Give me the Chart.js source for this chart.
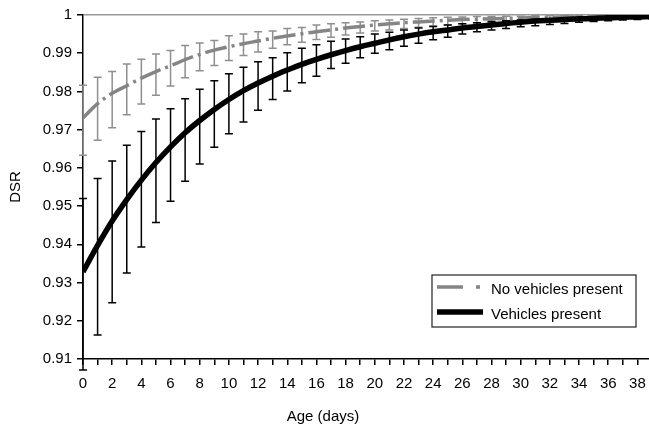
<!DOCTYPE html>
<html>
<head>
<meta charset="utf-8">
<script src="https://cdn.jsdelivr.net/npm/chart.js"></script>
<style>
  html, body { margin: 0; padding: 0; background: #fff; overflow: hidden; }
  #wrap { width: 652px; height: 427px; }
</style>
</head>
<body>
<div id="wrap"><canvas id="dsr-canvas" width="652" height="427"></canvas></div>
<script>
// nest age in days
var days = [0, 1, 2, 3, 4, 5, 6, 7, 8, 9, 10, 11, 12, 13, 14, 15, 16, 17, 18, 19,
    20, 21, 22, 23, 24, 25, 26, 27, 28, 29, 30, 31, 32, 33, 34, 35, 36, 37, 38, 39];

// No vehicles present
var noVehMean = [0.9731, 0.9768, 0.9795, 0.9815, 0.9835, 0.9852, 0.9867, 0.9883, 0.9897, 0.9908,
    0.9917, 0.9925, 0.9932, 0.9939, 0.9945, 0.9951, 0.9956, 0.9961, 0.9966, 0.9970,
    0.9974, 0.9977, 0.9980, 0.9982, 0.9984, 0.9986, 0.9988, 0.9989, 0.9990, 0.9991,
    0.9992, 0.9993, 0.9994, 0.9995, 0.9995, 0.9996, 0.9996, 0.9997, 0.9997, 0.9998];
var noVehLow = [0.9633, 0.9672, 0.9705, 0.9739, 0.9767, 0.9790, 0.9814, 0.9836, 0.9854, 0.9868,
    0.9881, 0.9894, 0.9903, 0.9913, 0.9922, 0.9929, 0.9936, 0.9942, 0.9948, 0.9953,
    0.9958, 0.9961, 0.9965, 0.9968, 0.9971, 0.9974, 0.9977, 0.9979, 0.9981, 0.9983,
    0.9985, 0.9986, 0.9988, 0.9989, 0.9990, 0.9991, 0.9992, 0.9993, 0.9994, 0.9994];
var noVehHigh = [0.9816, 0.9837, 0.9852, 0.9872, 0.9884, 0.9898, 0.9907, 0.9920, 0.9927, 0.9933,
    0.9946, 0.9950, 0.9956, 0.9958, 0.9965, 0.9967, 0.9974, 0.9977, 0.9980, 0.9982,
    0.9985, 0.9987, 0.9989, 0.9991, 0.9993, 0.9994, 0.9995, 0.9996, 0.9996, 0.9997,
    0.9997, 0.9998, 0.9998, 0.9998, 0.9999, 0.9999, 0.9999, 0.9999, 0.9999, 0.9999];

// Vehicles present
var vehMean = [0.9328, 0.9397, 0.9461, 0.9517, 0.9568, 0.9614, 0.9655, 0.9692, 0.9724, 0.9753,
    0.9779, 0.9802, 0.9822, 0.9840, 0.9856, 0.9871, 0.9884, 0.9896, 0.9907, 0.9917,
    0.9926, 0.9935, 0.9943, 0.9950, 0.9956, 0.9961, 0.9966, 0.9970, 0.9974, 0.9978,
    0.9981, 0.9984, 0.9986, 0.9988, 0.9990, 0.9991, 0.9993, 0.9994, 0.9995, 0.9996];
var vehLow = [0.9071, 0.9163, 0.9247, 0.9325, 0.9393, 0.9457, 0.9513, 0.9565, 0.9610, 0.9654,
    0.9689, 0.9720, 0.9751, 0.9779, 0.9801, 0.9823, 0.9840, 0.9860, 0.9874, 0.9888,
    0.9900, 0.9909, 0.9918, 0.9926, 0.9935, 0.9942, 0.9950, 0.9956, 0.9961, 0.9965,
    0.9969, 0.9972, 0.9975, 0.9978, 0.9981, 0.9983, 0.9985, 0.9987, 0.9988, 0.9990];
var vehHigh = [0.9520, 0.9572, 0.9618, 0.9659, 0.9695, 0.9728, 0.9755, 0.9781, 0.9806, 0.9828,
    0.9846, 0.9863, 0.9878, 0.9888, 0.9901, 0.9913, 0.9922, 0.9931, 0.9937, 0.9943,
    0.9950, 0.9955, 0.9961, 0.9966, 0.9970, 0.9974, 0.9977, 0.9980, 0.9983, 0.9985,
    0.9987, 0.9989, 0.9990, 0.9992, 0.9993, 0.9994, 0.9995, 0.9996, 0.9996, 0.9997];

var yTicks = [0.91, 0.92, 0.93, 0.94, 0.95, 0.96, 0.97, 0.98, 0.99, 1];
var xTitle = 'Age (days)';

function points(values) {
    return days.map(function (d, i) { return {x: d, y: values[i]}; });
}

var FONT = "'Liberation Sans', Arial, sans-serif";
Chart.defaults.font.family = FONT;
Chart.defaults.font.size = 15;
Chart.defaults.color = '#000';

// vertical error bars with caps, drawn under each dataset's line
var errorBars = {
    id: 'errorBars',
    beforeDatasetDraw: function (chart, args) {
        var ds = chart.data.datasets[args.index];
        if (!ds.errLow) return;
        var ctx = chart.ctx, x = chart.scales.x, y = chart.scales.y;
        ctx.save();
        ctx.strokeStyle = ds.errColor;
        ctx.lineWidth = 1.5;
        ds.data.forEach(function (pt, i) {
            var px = x.getPixelForValue(pt.x);
            var lo = y.getPixelForValue(ds.errLow[i]);
            var hi = y.getPixelForValue(ds.errHigh[i]);
            ctx.beginPath();
            ctx.moveTo(px, lo); ctx.lineTo(px, hi);
            ctx.moveTo(px - 4, lo); ctx.lineTo(px + 4, lo);
            ctx.moveTo(px - 4, hi); ctx.lineTo(px + 4, hi);
            ctx.stroke();
        });
        ctx.restore();
    }
};

// boxed legend in the lower right of the plot, plus the x axis title (sits left of centre)
var boxLegend = {
    id: 'boxLegend',
    afterDraw: function (chart) {
        var ctx = chart.ctx, area = chart.chartArea;
        var w = 204, h = 52;
        var left = area.right - 16 - w, top = area.bottom - 32 - h;
        ctx.save();
        ctx.fillStyle = '#fff';
        ctx.fillRect(left, top, w, h);
        ctx.strokeStyle = '#222';
        ctx.lineWidth = 1.2;
        ctx.strokeRect(left, top, w, h);
        ctx.font = '15px ' + FONT;
        ctx.textBaseline = 'middle';
        chart.data.datasets.forEach(function (ds, i) {
            var cy = top + 15 + i * 25;
            ctx.beginPath();
            ctx.strokeStyle = ds.borderColor;
            ctx.lineWidth = ds.borderWidth;
            ctx.setLineDash(ds.legendDash || []);
            ctx.moveTo(left + 5, cy - 3);
            ctx.lineTo(left + 51, cy - 3);
            ctx.stroke();
            ctx.setLineDash([]);
            ctx.fillStyle = '#000';
            ctx.fillText(ds.label, left + 59, cy);
        });
        ctx.textAlign = 'center';
        ctx.fillText(xTitle, area.left + 240, chart.height - 10);
        ctx.restore();
    }
};

var config = {
    type: 'line',
    data: {
        datasets: [{
            label: 'No vehicles present',
            data: points(noVehMean),
            errLow: noVehLow,
            errHigh: noVehHigh,
            errColor: '#8f8f8f',
            borderColor: '#858585',
            borderWidth: 3.5,
            borderDash: [22, 5, 3, 5],
            legendDash: [26, 13, 4, 20],
            pointRadius: 0,
            cubicInterpolationMode: 'monotone',
            order: 1
        }, {
            label: 'Vehicles present',
            data: points(vehMean),
            errLow: vehLow,
            errHigh: vehHigh,
            errColor: '#000',
            borderColor: '#000',
            borderWidth: 5.5,
            pointRadius: 0,
            cubicInterpolationMode: 'monotone',
            order: 0
        }]
    },
    options: {
        responsive: false,
        animation: false,
        devicePixelRatio: 1,
        layout: { padding: { left: 2, top: 15, right: 0, bottom: 34 } },
        plugins: {
            legend: { display: false },
            tooltip: { enabled: false }
        },
        scales: {
            x: {
                type: 'linear',
                min: 0,
                max: 39,
                afterFit: function (axis) {
                    axis.height = 34;
                    axis.paddingLeft = 0;
                    axis.paddingRight = 0;
                },
                grid: { drawOnChartArea: false, tickColor: '#000', tickLength: 6, lineWidth: 1.5 },
                border: { color: '#000', width: 1.5 },
                ticks: {
                    stepSize: 1,
                    autoSkip: false,
                    maxRotation: 0,
                    padding: 10,
                    callback: function (v) { return v % 2 === 0 ? String(v) : ''; }
                }
            },
            y: {
                min: 0.91,
                max: 1,
                afterBuildTicks: function (axis) {
                    axis.ticks = yTicks.map(function (v) { return {value: v}; });
                },
                afterFit: function (axis) {
                    axis.width = 81;
                },
                grid: {
                    color: function (c) { return c.tick && c.tick.value === 1 ? '#999' : 'rgba(0,0,0,0)'; },
                    lineWidth: 1.5,
                    tickColor: '#000',
                    tickLength: 6
                },
                border: { color: '#000', width: 1.5 },
                ticks: {
                    padding: 5,
                    callback: function (v) { return String(Number(v.toFixed(2))); }
                },
                title: { display: true, text: 'DSR', padding: { top: 5, bottom: 0 } }
            }
        }
    },
    plugins: [errorBars, boxLegend]
};

var ctx = document.getElementById('dsr-canvas').getContext('2d');
window.dsrChart = new Chart(ctx, config);
</script>
</body>
</html>
